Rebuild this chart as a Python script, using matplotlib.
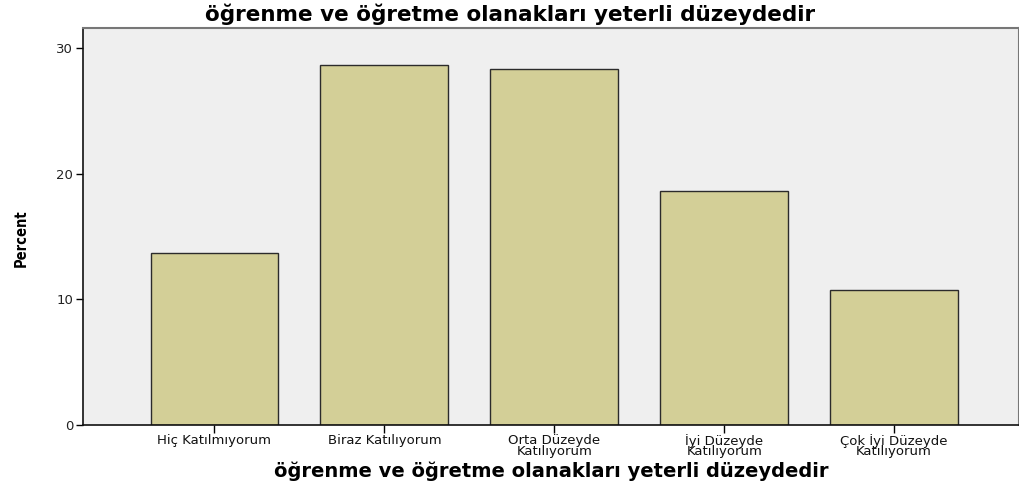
import matplotlib.pyplot as plt
import numpy as np

categories = ["Hiç Katılmıyorum", "Biraz Katılıyorum", "Orta Düzeyde\nKatılıyorum",
              "İyi Düzeyde\nKatılıyorum", "Çok İyi Düzeyde\nKatılıyorum"]
percent = [13.7, 28.6, 28.3, 18.6, 10.7]
yticks = [0, 10, 20, 30]
title = "öğrenme ve öğretme olanakları yeterli düzeydedir"

fig = plt.figure(figsize=(10.19, 4.88), dpi=100)
ax = fig.add_axes([0.0815, 0.1291, 0.9185, 0.8135])
ax.set_facecolor("#efefef")

x = np.arange(len(categories))
ax.bar(x, percent, width=0.753, color="#d3cf97", edgecolor="#2b2b2b", linewidth=1.0, zorder=2)

ax.set_xlim(-0.7735, 4.735)
ax.set_ylim(0, 31.58)
ax.set_yticks(yticks)
ax.set_xticks(x)
ax.set_xticklabels(categories, fontsize=9.5, linespacing=0.75, color="#111111")
ax.tick_params(axis="y", length=5, width=1, labelsize=9.5, labelcolor="#222222", pad=2)
ax.tick_params(axis="x", length=6, width=1, pad=0.5)

for side in ["left", "bottom"]:
    ax.spines[side].set_color("#111111")
    ax.spines[side].set_linewidth(1.2)
for side in ["top", "right"]:
    ax.spines[side].set_color("#777777")
    ax.spines[side].set_linewidth(1.5)

ax.set_ylabel("Percent", family="DejaVu Sans", fontstretch="condensed",
              fontweight="bold", fontsize=10.5)
ax.yaxis.set_label_coords(-0.058, 0.471)
ax.set_xlabel(title, fontweight="bold", fontsize=14, labelpad=2)
fig.text(0.501, 0.971, title, ha="center", va="center", fontweight="bold", fontsize=15.5)

fig.savefig("out.png", dpi=100)
